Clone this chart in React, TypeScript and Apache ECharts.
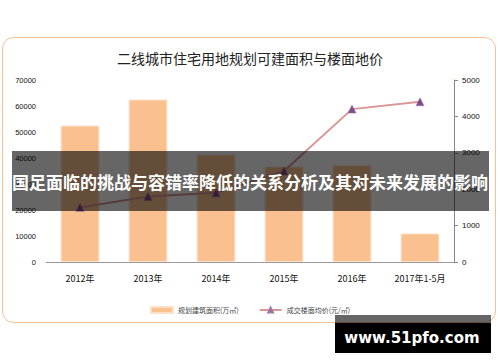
import React, { useEffect, useRef } from "react";
import * as echarts from "echarts";

const categories = ["2012年", "2013年", "2014年", "2015年", "2016年", "2017年1-5月"];
const areaValues = [52500, 62500, 41300, 36700, 37200, 11000];
const priceValues = [1500, 1800, 1900, 2500, 4200, 4400];
const seriesNames = ["规划建筑面积(万㎡)", "成交楼面均价(元/㎡)"];
const titleText = "二线城市住宅用地规划可建面积与楼面地价";
const bannerText = "国足面临的挑战与容错率降低的关系分析及其对未来发展的影响";
const watermarkText = "www.51pfo.com";

export default function App() {
  const ref = useRef<HTMLDivElement>(null);
  useEffect(() => {
    if (!ref.current) return;
    const chart = echarts.init(ref.current, null, { renderer: "svg" });
    const cjk = "'Noto Sans CJK SC', 'Noto Sans', sans-serif";
    const plain = (v: number) => String(v);
    chart.setOption({
      animation: false,
      backgroundColor: "#ffffff",
      title: {
        text: titleText,
        left: "center",
        top: 46,
        textStyle: { fontFamily: cjk, fontSize: 14, fontWeight: "normal", color: "#222" },
      },
      legend: {
        top: 301,
        left: "center",
        itemGap: 20,
        itemWidth: 22,
        itemHeight: 6,
        textStyle: { fontFamily: cjk, fontSize: 7, color: "#444" },
        data: [
          { name: seriesNames[0], icon: "rect" },
          { name: seriesNames[1] },
        ],
      },
      grid: { left: 46, right: 46, top: 80, bottom: 100 },
      xAxis: {
        type: "category",
        data: categories,
        axisLine: { show: true, lineStyle: { color: "#999", width: 1 } },
        axisTick: { show: false },
        axisLabel: { fontFamily: cjk, fontSize: 9, color: "#111", margin: 12, interval: 0 },
      },
      yAxis: [
        {
          type: "value",
          min: 0,
          max: 70000,
          interval: 10000,
          axisLine: { show: false },
          axisTick: { show: false },
          splitLine: { show: false },
          axisLabel: {
            formatter: plain,
            fontFamily: "'Liberation Sans', sans-serif",
            fontSize: 7.5,
            color: "#111",
            margin: 10,
          },
        },
        {
          type: "value",
          min: 0,
          max: 5000,
          interval: 1000,
          position: "right",
          axisLine: { show: true, lineStyle: { color: "#888", width: 1 } },
          axisTick: { show: true, inside: false, length: 4, lineStyle: { color: "#888" } },
          splitLine: { show: false },
          axisLabel: {
            formatter: plain,
            fontFamily: "'Liberation Sans', sans-serif",
            fontSize: 8,
            color: "#111",
            margin: 8,
          },
        },
      ],
      series: [
        {
          name: seriesNames[0],
          type: "bar",
          data: areaValues,
          yAxisIndex: 0,
          barWidth: "57%",
          itemStyle: { color: "#fac090", borderColor: "#fde0c8", borderWidth: 1 },
        },
        {
          name: seriesNames[1],
          type: "line",
          data: priceValues,
          yAxisIndex: 1,
          symbol: "triangle",
          symbolSize: 8,
          lineStyle: { color: "#d99694", width: 2 },
          itemStyle: { color: "#7f4a8a", borderColor: "#a07aa8", borderWidth: 0.5 },
        },
      ],
      graphic: [
        {
          type: "rect",
          shape: { x: 2.5, y: 37.5, width: 493, height: 285, r: 11 },
          style: { fill: "none", stroke: "#f9c08e", lineWidth: 1 },
          z: 100,
        },
        {
          type: "rect",
          shape: { x: 12, y: 151, width: 477, height: 60 },
          style: { fill: "rgba(0,0,0,0.6)" },
          z: 110,
        },
        {
          type: "text",
          x: 250,
          y: 181,
          style: {
            text: bannerText,
            fill: "#ffffff",
            font: "bold 17px 'Noto Sans CJK SC', sans-serif",
            textAlign: "center",
            textVerticalAlign: "middle",
          },
          z: 111,
        },
        {
          type: "rect",
          shape: { x: 335, y: 315, width: 156, height: 8 },
          style: { fill: "rgba(0,0,0,0.6)" },
          z: 110,
        },
        {
          type: "rect",
          shape: { x: 335, y: 323, width: 156, height: 30 },
          style: { fill: "#000000" },
          z: 110,
        },
        {
          type: "text",
          x: 412,
          y: 338,
          style: {
            text: watermarkText,
            fill: "#ffffff",
            font: "bold 15px 'DejaVu Sans', sans-serif",
            textAlign: "center",
            textVerticalAlign: "middle",
          },
          z: 111,
        },
      ],
    });
    return () => chart.dispose();
  }, []);
  return (
    <div
      ref={ref}
      style={{ position: "fixed", left: 0, top: 0, width: 500, height: 362 }}
    />
  );
}
